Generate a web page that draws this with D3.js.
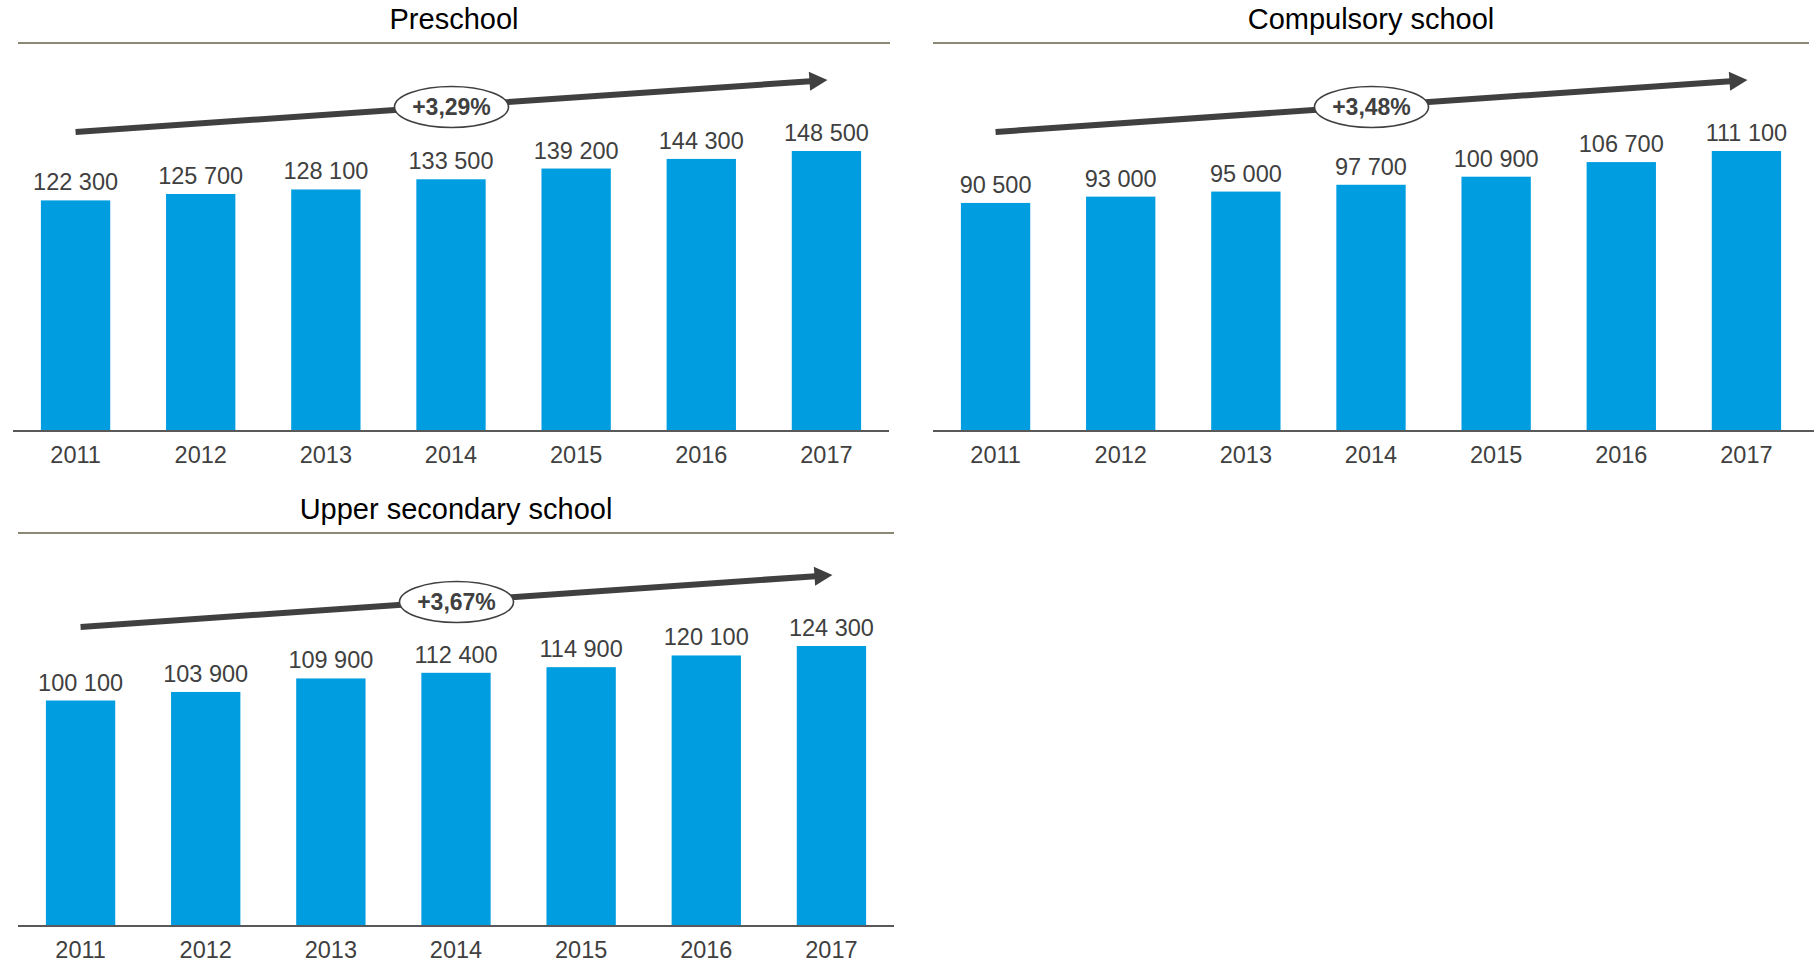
<!DOCTYPE html>
<html>
<head>
<meta charset="utf-8">
<script src="https://cdn.jsdelivr.net/npm/d3@7"></script>
<style>
  html, body { margin: 0; padding: 0; background: #fff; }
  svg { display: block; }
  text { font-family: "Liberation Sans", Arial, sans-serif; }
</style>
</head>
<body>
<svg id="chart" width="1814" height="964"></svg>
<script>
// Enrolment by school level, 2011–2017
const years = ["2011", "2012", "2013", "2014", "2015", "2016", "2017"];
const panelTitles = ["Preschool", "Compulsory school", "Upper secondary school"];
const preschool = [122300, 125700, 128100, 133500, 139200, 144300, 148500];
const compulsory = [90500, 93000, 95000, 97700, 100900, 106700, 111100];
const upperSecondary = [100100, 103900, 109900, 112400, 114900, 120100, 124300];
const growthRates = ["+3,29%", "+3,48%", "+3,67%"];

const seriesList = [preschool, compulsory, upperSecondary];

// Panel placement on the page
const layout = [
  { x0: 13, x1: 889, axisX0: 13, axisX1: 889, ruleX0: 18, ruleX1: 890, titleY: 29, ruleY: 43, baseY: 431 },
  { x0: 933, x1: 1809, axisX0: 933, axisX1: 1814, ruleX0: 933, ruleX1: 1809, titleY: 29, ruleY: 43, baseY: 431 },
  { x0: 18, x1: 894, axisX0: 18, axisX1: 894, ruleX0: 18, ruleX1: 894, titleY: 519, ruleY: 533, baseY: 926 }
];

const BAR_COLOR = "#009EE0";
const TEXT_COLOR = "#404040";
const RULE_COLOR = "#8B8874";
const AXIS_COLOR = "#595959";
const ARROW_COLOR = "#404040";
const plotHeight = 280;

const fmt = d3.formatLocale({ decimal: ",", thousands: " ", grouping: [3], currency: ["", ""] }).format(",");

const svg = d3.select("#chart");

seriesList.forEach((values, i) => {
  const L = layout[i];
  const g = svg.append("g");

  const x = d3.scaleBand()
    .domain(years)
    .range([L.x0, L.x1])
    .paddingInner(0.446)
    .paddingOuter(0.223);

  const y = d3.scaleLinear()
    .domain([0, d3.max(values)])
    .range([L.baseY, L.baseY - plotHeight]);

  // Title and rule under it
  g.append("text")
    .attr("x", (L.ruleX0 + L.ruleX1) / 2)
    .attr("y", L.titleY)
    .attr("text-anchor", "middle")
    .attr("font-size", 29)
    .attr("fill", "#000")
    .text(panelTitles[i]);

  g.append("line")
    .attr("x1", L.ruleX0).attr("x2", L.ruleX1)
    .attr("y1", L.ruleY).attr("y2", L.ruleY)
    .attr("stroke", RULE_COLOR)
    .attr("stroke-width", 2);

  // Bars
  g.selectAll("rect.bar")
    .data(values)
    .join("rect")
    .attr("class", "bar")
    .attr("x", (d, j) => x(years[j]))
    .attr("width", x.bandwidth())
    .attr("y", d => y(d))
    .attr("height", d => y(0) - y(d))
    .attr("fill", BAR_COLOR);

  // Value labels
  g.selectAll("text.value")
    .data(values)
    .join("text")
    .attr("class", "value")
    .attr("x", (d, j) => x(years[j]) + x.bandwidth() / 2)
    .attr("y", d => y(d) - 10)
    .attr("text-anchor", "middle")
    .attr("font-size", 23.5)
    .attr("fill", TEXT_COLOR)
    .text(d => fmt(d));

  // Category axis
  const axis = d3.axisBottom(x).tickSize(0).tickPadding(0);
  const axisG = g.append("g")
    .attr("transform", `translate(0,${L.baseY})`)
    .call(axis);
  axisG.select(".domain").remove();
  axisG.append("line")
    .attr("x1", L.axisX0).attr("x2", L.axisX1)
    .attr("y1", 0).attr("y2", 0)
    .attr("stroke", AXIS_COLOR)
    .attr("stroke-width", 2);
  axisG.selectAll(".tick text")
    .attr("dy", null)
    .attr("y", 31.5)
    .attr("font-size", 23.5)
    .attr("font-family", "Liberation Sans, Arial, sans-serif")
    .attr("fill", TEXT_COLOR);

  // Growth arrow spanning first to last year
  const ax0 = x(years[0]) + x.bandwidth() / 2;
  const ax1 = x(years[years.length - 1]) + x.bandwidth() / 2 + 1;
  const ay0 = L.baseY - 299;
  const ay1 = L.baseY - 351;
  const ang = Math.atan2(ay1 - ay0, ax1 - ax0);
  const headLen = 18, headHalf = 9.5;
  const bx = ax1 - headLen * Math.cos(ang);
  const by = ay1 - headLen * Math.sin(ang);
  const nx = -Math.sin(ang), ny = Math.cos(ang);

  g.append("line")
    .attr("x1", ax0).attr("y1", ay0)
    .attr("x2", bx + 1 * Math.cos(ang)).attr("y2", by + 1 * Math.sin(ang))
    .attr("stroke", ARROW_COLOR)
    .attr("stroke-width", 6);

  g.append("path")
    .attr("d", `M${ax1},${ay1}L${bx + nx * headHalf},${by + ny * headHalf}L${bx - nx * headHalf},${by - ny * headHalf}Z`)
    .attr("fill", ARROW_COLOR);

  // Growth rate badge at the arrow's midpoint
  const cx = (ax0 + ax1) / 2;
  const cy = (ay0 + ay1) / 2 + 1;
  g.append("ellipse")
    .attr("cx", cx).attr("cy", cy)
    .attr("rx", 57).attr("ry", 20.5)
    .attr("fill", "#fff")
    .attr("stroke", ARROW_COLOR)
    .attr("stroke-width", 1.6);

  g.append("text")
    .attr("x", cx)
    .attr("y", cy + 8)
    .attr("text-anchor", "middle")
    .attr("font-size", 23)
    .attr("font-weight", "bold")
    .attr("fill", TEXT_COLOR)
    .text(growthRates[i]);
});
</script>
</body>
</html>
